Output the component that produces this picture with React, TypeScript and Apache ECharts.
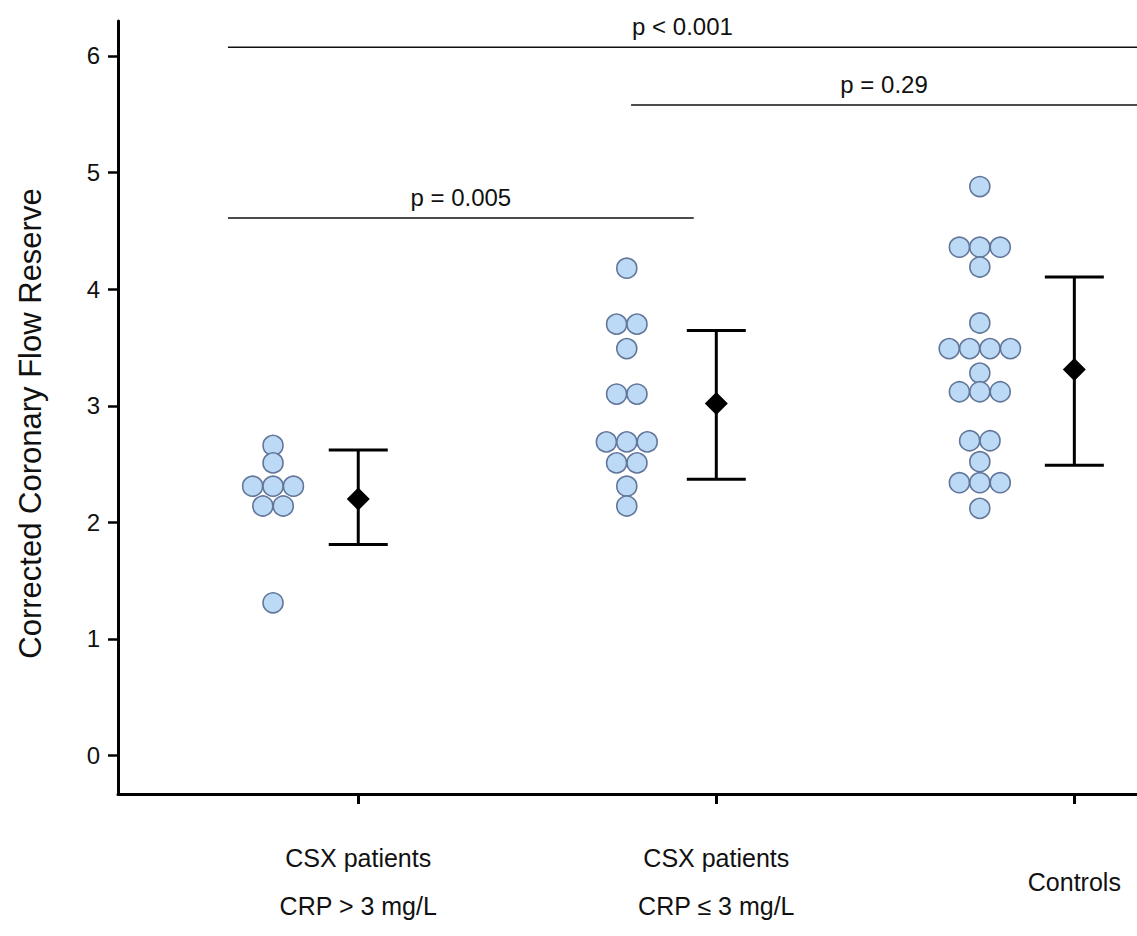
import React, { useEffect, useRef } from "react";
import * as echarts from "echarts";

// ---- Data ----
const categories = ["CSX patients\nCRP > 3 mg/L", "CSX patients\nCRP ≤ 3 mg/L", "Controls"];
const categoryX = [1, 2, 3];
const dotColumnX = [0.762, 1.75, 2.736];

const groupHighCRP = [2.66, 2.51, 2.31, 2.31, 2.31, 2.14, 2.14, 1.31];
const groupLowCRP = [4.18, 3.7, 3.7, 3.49, 3.1, 3.1, 2.69, 2.69, 2.69, 2.51, 2.51, 2.31, 2.14];
const groupControls = [
  4.88, 4.36, 4.36, 4.36, 4.19, 3.71, 3.49, 3.49, 3.49, 3.49, 3.28, 3.12, 3.12, 3.12, 2.7, 2.7, 2.52,
  2.34, 2.34, 2.34, 2.12,
];

const means = [2.2, 3.02, 3.31];
const lowerBounds = [1.81, 2.37, 2.49];
const upperBounds = [2.62, 3.645, 4.105];

const pLabels = ["p < 0.001", "p = 0.29", "p = 0.005"];
const pLevels = [6.075, 5.58, 4.61];
const pFrom = [0.636, 1.762, 0.636];
const pTo = [3.175, 3.175, 1.937];

const yTicks = [0, 1, 2, 3, 4, 5, 6];

const X_MIN = 0.329;
const X_MAX = 3.175;
const Y_MIN = -0.33;
const Y_MAX = 6.3;
const DOT_STEP = 0.057;

const FONT = "'Liberation Sans', Arial, Helvetica, sans-serif";

function swarm(values: number[], cx: number): number[][] {
  const counts = new Map<number, number>();
  values.forEach((v) => counts.set(v, (counts.get(v) || 0) + 1));
  const seen = new Map<number, number>();
  return values.map((v) => {
    const n = counts.get(v) || 1;
    const k = seen.get(v) || 0;
    seen.set(v, k + 1);
    return [cx + (k - (n - 1) / 2) * DOT_STEP, v];
  });
}

export default function App() {
  const ref = useRef<HTMLDivElement>(null);

  useEffect(() => {
    if (!ref.current) return;
    const chart = echarts.init(ref.current, undefined, { renderer: "svg" });
    const groups = [groupHighCRP, groupLowCRP, groupControls];
    const dots = groups.flatMap((g, i) => swarm(g, dotColumnX[i]));

    const bracketSeries = pLabels.map((lab, i) => ({
      type: "line",
      name: lab,
      data: [
        [pFrom[i], pLevels[i]],
        [pTo[i], pLevels[i]],
      ],
      symbol: "none",
      lineStyle: { color: "#111", width: 1.6 },
      silent: true,
      z: 1,
    }));

    const option: any = {
      animation: false,
      backgroundColor: "#fff",
      grid: { left: 118, right: 0, top: 21, bottom: 142, containLabel: false },
      xAxis: {
        type: "value",
        min: X_MIN,
        max: X_MAX,
        splitLine: { show: false },
        axisLine: { show: true, onZero: false, lineStyle: { color: "#000", width: 3 } },
        axisTick: {
          show: true,
          customValues: categoryX,
          length: 10,
          lineStyle: { color: "#000", width: 3 },
        },
        axisLabel: {
          show: true,
          customValues: categoryX,
          formatter: (v: number) => categories[Math.round(v) - 1] || "",
          margin: 88,
          verticalAlign: "middle",
          lineHeight: 48,
          fontSize: 25,
          fontFamily: FONT,
          color: "#111",
        },
      },
      yAxis: {
        type: "value",
        min: Y_MIN,
        max: Y_MAX,
        splitLine: { show: false },
        axisLine: { show: true, onZero: false, lineStyle: { color: "#000", width: 3 } },
        axisTick: {
          show: true,
          customValues: yTicks,
          length: 10,
          lineStyle: { color: "#000", width: 2.5 },
        },
        axisLabel: {
          show: true,
          customValues: yTicks,
          margin: 18,
          fontSize: 24,
          fontFamily: FONT,
          color: "#111",
        },
        name: "Corrected Coronary Flow Reserve",
        nameLocation: "middle",
        nameRotate: 90,
        nameGap: 72,
        nameTextStyle: { fontSize: 31, fontFamily: FONT, color: "#111", padding: [0, 32, 0, 0] },
      },
      series: [
        ...bracketSeries,
        {
          type: "scatter",
          name: "p-values",
          data: pLabels.map((lab, i) => ({ value: [(pFrom[i] + pTo[i]) / 2, pLevels[i]], name: lab })),
          symbolSize: 1,
          itemStyle: { color: "rgba(0,0,0,0)", opacity: 1 },
          label: {
            show: true,
            position: "top",
            distance: 8,
            formatter: (p: any) => p.name,
            fontSize: 24,
            fontFamily: FONT,
            color: "#111",
          },
          silent: true,
          z: 2,
        },
        {
          type: "scatter",
          name: "CFR",
          data: dots,
          symbol: "circle",
          symbolSize: 20,
          itemStyle: { color: "#bcdaf5", borderColor: "#62769a", borderWidth: 1.6, opacity: 1 },
          z: 3,
        },
        {
          type: "custom",
          name: "SD",
          data: categoryX.map((x, i) => [x, lowerBounds[i], upperBounds[i]]),
          encode: { x: 0, y: [1, 2] },
          renderItem: (_params: any, api: any) => {
            const x = api.value(0);
            const lo = api.coord([x, api.value(1)]);
            const hi = api.coord([x, api.value(2)]);
            const half = 29.5;
            const style = { stroke: "#000", lineWidth: 3 };
            return {
              type: "group",
              children: [
                { type: "line", shape: { x1: lo[0], y1: lo[1], x2: hi[0], y2: hi[1] }, style },
                { type: "line", shape: { x1: lo[0] - half, y1: lo[1], x2: lo[0] + half, y2: lo[1] }, style },
                { type: "line", shape: { x1: hi[0] - half, y1: hi[1], x2: hi[0] + half, y2: hi[1] }, style },
              ],
            };
          },
          z: 4,
        },
        {
          type: "scatter",
          name: "Mean",
          data: categoryX.map((x, i) => [x, means[i]]),
          symbol: "diamond",
          symbolSize: [23, 23],
          itemStyle: { color: "#000", opacity: 1 },
          z: 5,
        },
      ],
    };
    chart.setOption(option);
    return () => chart.dispose();
  }, []);

  return (
    <div
      ref={ref}
      style={{ position: "absolute", left: 0, top: 0, width: 1137, height: 936, background: "#fff" }}
    />
  );
}
